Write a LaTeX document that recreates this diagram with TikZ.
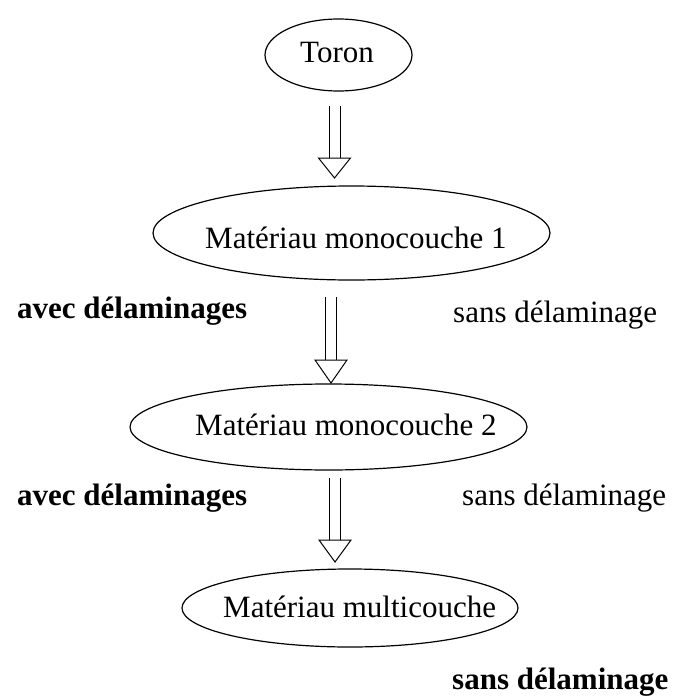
\documentclass[tikz,border=0pt]{standalone}
\usepackage{fontspec}
\setmainfont{Liberation Serif}
\tikzset{
  oval/.style={line width=1.2pt},
  lbl/.style={inner sep=0pt, anchor=base west, font=\fontsize{31}{36}\selectfont},
  blbl/.style={lbl, font=\fontsize{31}{36}\selectfont\bfseries},
  arr/.style={line width=1pt}
}
\newcommand{\dblarrow}[4]{% x, ytop, yhead, ytip
  \draw[arr] (#1-5.5,#2) -- (#1-5.5,#3);
  \draw[arr] (#1+5.5,#2) -- (#1+5.5,#3);
  \draw[arr, line join=miter] (#1-16,#3) -- (#1+16,#3) -- (#1,#4) -- cycle;
}
\begin{document}
\begin{tikzpicture}[x=1pt,y=-1pt]
\useasboundingbox (0,0) rectangle (675,696);
% ovals
\draw[oval] (338.5,55) ellipse [x radius=73.5, y radius=36];
\draw[oval] (351.5,233) ellipse [x radius=198.5, y radius=47];
\draw[oval] (328.5,427) ellipse [x radius=198.5, y radius=43];
\draw[oval] (350,608) ellipse [x radius=168, y radius=39];
% texts
\node[lbl] (toron) at (300,62) {Toron};
\node[lbl] (m1) at (205,248) {Matériau monocouche 1};
\node[lbl] (m2) at (195,435) {Matériau monocouche 2};
\node[lbl] (mm) at (223,617) {Matériau multicouche};
\dblarrow{334.5}{106}{158}{178}
\dblarrow{331}{297}{360}{383}
\dblarrow{335}{478}{540}{562}
\node[blbl] (a1) at (17,318) {avec délaminages};
\node[lbl] (s1) at (453,322) {sans délaminage};
\node[blbl] (a2) at (17,505) {avec délaminages};
\node[lbl] (s2) at (462,505) {sans délaminage};
\node[blbl] (s3) at (452,689) {sans délaminage};
\end{tikzpicture}
\end{document}
